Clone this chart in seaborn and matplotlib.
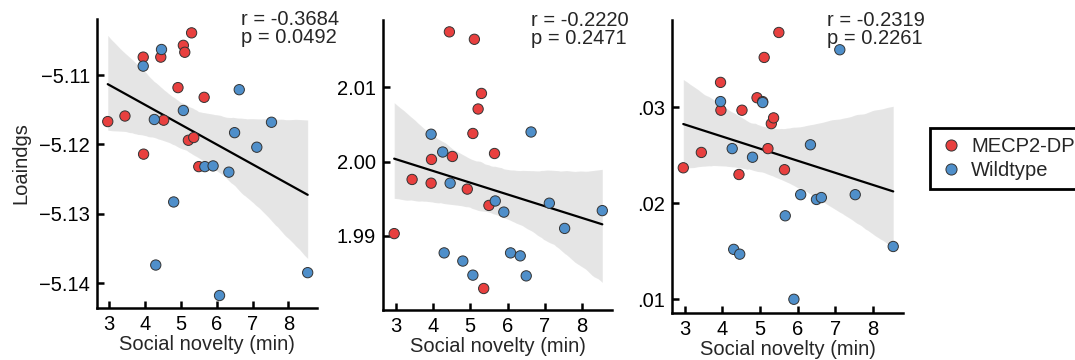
import seaborn as sns
import matplotlib.pyplot as plt
import pandas as pd
from matplotlib.lines import Line2D

sns.set_style("white")
plt.rcParams['font.family'] = ['Liberation Sans', 'DejaVu Sans']

groups = ['MECP2-DP', 'Wildtype']
palette = {'MECP2-DP': '#e8403f', 'Wildtype': '#4f8fca'}

# social novelty time (min) per animal, shared by all three panels
dp_novelty = [2.96, 3.44, 3.95, 3.96, 4.44, 4.52, 4.92, 5.07, 5.11, 5.21, 5.30, 5.36, 5.50, 5.65]
wt_novelty = [3.95, 4.26, 4.30, 4.46, 4.80, 5.07, 5.67, 5.90, 6.08, 6.34, 6.50, 6.63, 7.12, 7.53, 8.54]

# loadings, panel 1
dp_load1 = [-5.1167, -5.1159, -5.1074, -5.1214, -5.1074, -5.1165, -5.1118, -5.1057, -5.1067,
            -5.1194, -5.1039, -5.1190, -5.1232, -5.1132]
wt_load1 = [-5.1087, -5.1164, -5.1374, -5.1063, -5.1283, -5.1151, -5.1232, -5.1231, -5.1418,
            -5.1240, -5.1183, -5.1121, -5.1204, -5.1168, -5.1385]
# panel 2
dp_load2 = [1.9903, 1.9976, 1.9971, 2.0003, 2.0175, 2.0007, 1.9963, 2.0038, 2.0165, 2.0071,
            2.0092, 1.9829, 1.9941, 2.0011]
wt_load2 = [2.0037, 2.0013, 1.9877, 1.9971, 1.9866, 1.9847, 1.9947, 1.9932, 1.9877, 1.9873,
            1.9846, 2.0040, 1.9944, 1.9910, 1.9934]
# panel 3
dp_load3 = [0.0237, 0.0253, 0.0326, 0.0297, 0.0230, 0.0297, 0.0310, 0.0306, 0.0352, 0.0257,
            0.0283, 0.0289, 0.0378, 0.0235]
wt_load3 = [0.0306, 0.0257, 0.0152, 0.0147, 0.0248, 0.0305, 0.0187, 0.0100, 0.0209, 0.0261,
            0.0204, 0.0206, 0.0360, 0.0209, 0.0155]

stats_text = ['r = -0.3684\np = 0.0492', 'r = -0.2220\np = 0.2471', 'r = -0.2319\np = 0.2261']
yticks = [[-5.11, -5.12, -5.13, -5.14], [2.01, 2.00, 1.99], [0.03, 0.02, 0.01]]
ytick_labels = [['\u22125.11', '\u22125.12', '\u22125.13', '\u22125.14'],
                ['2.01', '2.00', '1.99'],
                ['.03', '.02', '.01']]
ylims = [(-5.1436, -5.1019), (1.9800, 2.0191), (0.00857, 0.0391)]
xticks = [3, 4, 5, 6, 7, 8]

W, H = 1075, 360
fig = plt.figure(figsize=(W / 100, H / 100), dpi=100)
boxes = [(97, 317, 19, 308), (383, 612, 20, 310), (672, 903, 20, 313)]
text_x = [0.654, 0.648, 0.671]

panels = [(dp_load1, wt_load1), (dp_load2, wt_load2), (dp_load3, wt_load3)]
for i, (dp, wt) in enumerate(panels):
    l, r, t, b = boxes[i]
    ax = fig.add_axes([l / W, 1 - b / H, (r - l) / W, (b - t) / H])
    df = pd.DataFrame({
        'novelty': dp_novelty + wt_novelty,
        'load': dp + wt,
        'group': [groups[0]] * len(dp) + [groups[1]] * len(wt),
    })
    sns.regplot(data=df, x='novelty', y='load', scatter=False, color='k', ax=ax,
                line_kws={'lw': 1.6}, seed=3)
    for c in ax.collections:
        c.set_alpha(0.1)
    sns.scatterplot(data=df, x='novelty', y='load', hue='group', palette=palette, s=55,
                    edgecolor='#333333', linewidth=0.7, ax=ax, legend=False, zorder=3)
    sns.despine(ax=ax)
    for s in ['left', 'bottom']:
        ax.spines[s].set_linewidth(1.8)
        ax.spines[s].set_color('k')
    ax.set_xlim(2.66, 8.8)
    ax.set_ylim(*ylims[i])
    ax.set_xticks(xticks)
    ax.set_yticks(yticks[i])
    ax.set_yticklabels(ytick_labels[i])
    ax.tick_params(bottom=True, left=True, direction='in', length=5, width=1.8,
                   labelsize=14.5, pad=5, colors='k')
    ax.set_xlabel('Social novelty (min)', fontsize=14.5, labelpad=1)
    ax.set_ylabel('Loaindgs' if i == 0 else '', fontsize=14.5, labelpad=6)
    ax.text(text_x[i], 1.03, stats_text[i], transform=ax.transAxes, ha='left', va='top',
            fontsize=14.5, linespacing=0.9)

handles = [Line2D([], [], marker='o', ls='', markerfacecolor=palette[g],
                  markeredgecolor='#333333', markeredgewidth=0.7, markersize=8) for g in groups]
leg = fig.legend(handles, groups, loc='upper left', bbox_to_anchor=(930 / W, 1 - 128 / H),
                 borderaxespad=0, frameon=True, fancybox=False, edgecolor='k', framealpha=1,
                 fontsize=14.5, handletextpad=0.4, borderpad=0.45, labelspacing=0.25,
                 handlelength=1.2)
leg.get_frame().set_linewidth(2)

fig.savefig('out.png', dpi=100)
